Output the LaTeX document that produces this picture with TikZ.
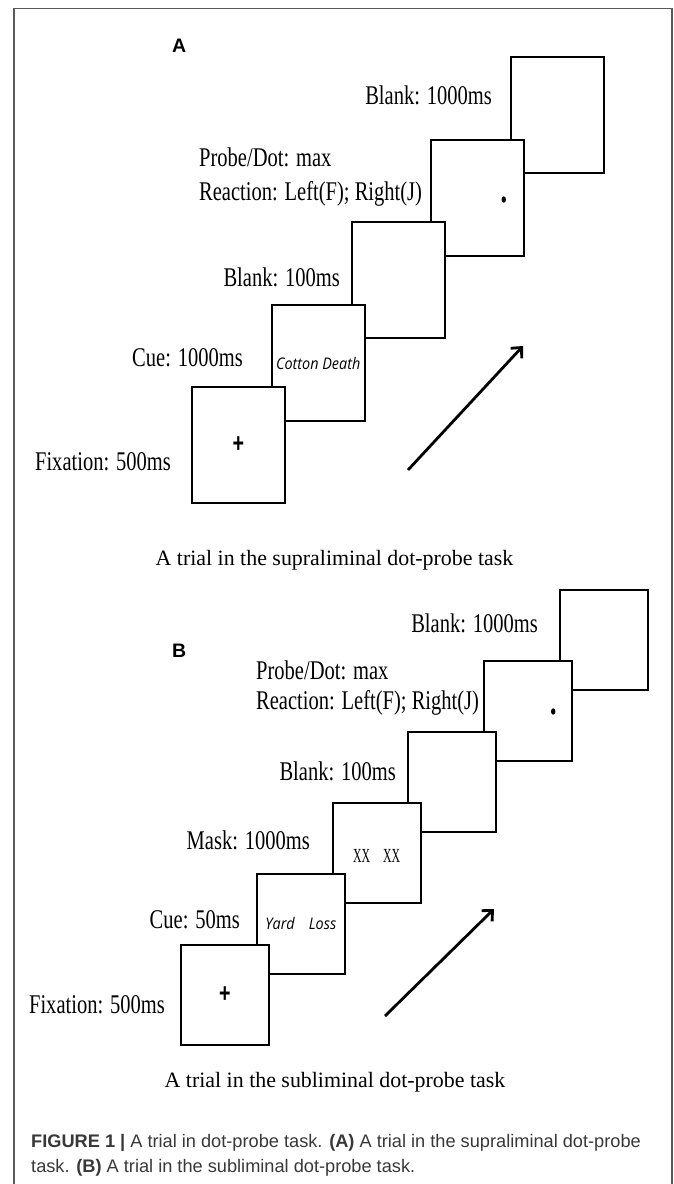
\documentclass[tikz,border=0pt]{standalone}
\usepackage{fontspec}
\setmainfont{Liberation Serif}
\setsansfont{Liberation Sans}
\newfontfamily\steplabelfont[FakeStretch=0.76]{Liberation Serif}
\newfontfamily\cuewordfont[FakeStretch=0.9]{Open Sans}
\newfontfamily\maskfont[FakeStretch=0.59]{Liberation Serif}
\newfontfamily\crossfont[FakeStretch=0.73]{Liberation Sans}
\usetikzlibrary{arrows.meta}
\definecolor{framegrey}{gray}{0.35}
\definecolor{captext}{gray}{0.22}
\tikzset{
  screen/.style={draw, line width=2pt, fill=white, inner sep=0pt},
  screenA/.style={screen, minimum width=93pt, minimum height=116pt},
  screenB/.style={screen, minimum width=88pt, minimum height=100pt},
  steplabel/.style={font=\steplabelfont\fontsize{27}{34}\selectfont, inner sep=0pt},
  cueword/.style={font=\cuewordfont\itshape\fontsize{16}{18}\selectfont, inner sep=0pt, anchor=base},
  crossmark/.style={font=\crossfont\bfseries\fontsize{27}{27}\selectfont, inner sep=0pt},
  trialcap/.style={font=\fontsize{21.9}{26}\selectfont, inner sep=0pt, anchor=base},
  panel/.style={font=\sffamily\bfseries\fontsize{19.5}{22}\selectfont, inner sep=0pt, anchor=base west},
  figcap/.style={font=\sffamily\fontsize{18.2}{24}\selectfont, text=captext, inner sep=0pt, anchor=base west},
  trialarrow/.style={line width=2.8pt, -{Straight Barb[length=8pt,width=15pt]}}
}
\begin{document}
\begin{tikzpicture}[x=1pt,y=-1pt]
\useasboundingbox (0,0) rectangle (674,1184);
\draw[framegrey, line width=1.2pt] (14,1190) -- (14,8.5) -- (672,8.5) -- (672,1190);

% A: supraliminal
\node[panel] (pA) at (172,52) {A};
\foreach \i in {5,4,...,1}
  \node[screenA] (a\i) at ({238.5+79.75*(\i-1)},{445-82.5*(\i-1)}) {};
\node[crossmark] (across) at (a1.center) {+};
\node[cueword, yshift=-7pt] (awords) at (a2.center) {Cotton Death};
\fill (a4.center) ++(26,2) ellipse [x radius=2.2pt, y radius=3.2pt];
\node[steplabel, anchor=base east] (lfixA) at (171,470) {Fixation: 500ms};
\node[steplabel, anchor=base east] (lcueA) at (243,366) {Cue: 1000ms};
\node[steplabel, anchor=base east] (lblankA) at (340,286) {Blank: 100ms};
\node[steplabel, anchor=base west] (lprobeA) at (199,166) {Probe/Dot: max};
\node[steplabel, anchor=base west] (lreactA) at (199,200) {Reaction: Left(F); Right(J)};
\node[steplabel, anchor=base east] (lendA) at (492,104) {Blank: 1000ms};
\coordinate (arrA0) at (408,470);
\coordinate (arrA1) at (523,346);
\draw[trialarrow] (arrA0) -- (arrA1);
\node[trialcap] (capA) at (334.5,565) {A trial in the supraliminal dot-probe task};

% B: subliminal
\node[panel] (pB) at (172,657) {B};
\foreach \i in {6,5,...,1}
  \node[screenB] (b\i) at ({225+75.8*(\i-1)},{994.5-71*(\i-1)}) {};
\node[crossmark] (bcross) at (b1.center) {+};
\node[cueword, yshift=-6pt] (bwords) at (b2.center) {Yard\hspace{14pt}Loss};
\node[font=\maskfont\fontsize{20}{20}\selectfont, inner sep=0pt, anchor=base, yshift=-10pt] (bmask) at (b3.center) {XX\hspace{13pt}XX};
\fill (b5.center) ++(25,1) ellipse [x radius=2.2pt, y radius=3.2pt];
\node[steplabel, anchor=base east] (lfixB) at (165,1013) {Fixation: 500ms};
\node[steplabel, anchor=base east] (lcueB) at (240,928) {Cue: 50ms};
\node[steplabel, anchor=base east] (lmaskB) at (310,849) {Mask: 1000ms};
\node[steplabel, anchor=base east] (lblankB) at (396,780) {Blank: 100ms};
\node[steplabel, anchor=base west] (lprobeB) at (256,679) {Probe/Dot: max};
\node[steplabel, anchor=base west] (lreactB) at (256,709) {Reaction: Left(F); Right(J)};
\node[steplabel, anchor=base east] (lendB) at (538,632) {Blank: 1000ms};
\coordinate (arrB0) at (385,1016);
\coordinate (arrB1) at (494,909);
\draw[trialarrow] (arrB0) -- (arrB1);
\node[trialcap] (capB) at (335,1087) {A trial in the subliminal dot-probe task};

\node[figcap] (fig1) at (31,1147) {\textbf{FIGURE 1 |} A trial in dot-probe task. \textbf{(A)} A trial in the supraliminal dot-probe};
\node[figcap] (fig2) at (31,1172) {task. \textbf{(B)} A trial in the subliminal dot-probe task.};
\end{tikzpicture}
\end{document}
